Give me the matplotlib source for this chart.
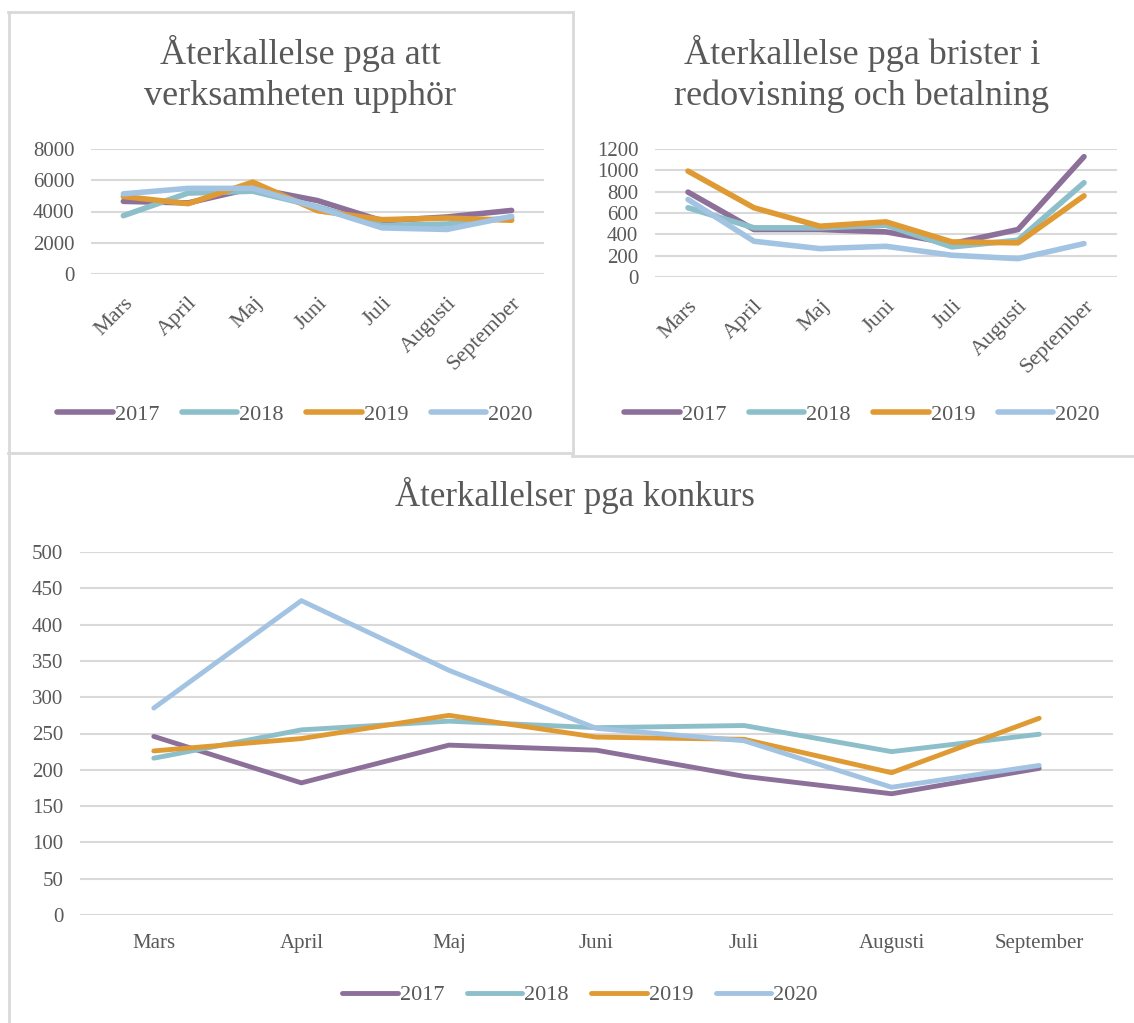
import numpy as np
import matplotlib
matplotlib.use("Agg")
from matplotlib import pyplot as plt
from matplotlib.lines import Line2D

months = ["Mars", "April", "Maj", "Juni", "Juli", "Augusti", "September"]
years = ["2017", "2018", "2019", "2020"]

# Återkallelse pga att verksamheten upphör
upphor_2017 = [4650, 4550, 5500, 4700, 3400, 3650, 4070]
upphor_2018 = [3730, 5180, 5300, 4300, 3100, 3200, 3600]
upphor_2019 = [4960, 4500, 5880, 4050, 3480, 3580, 3440]
upphor_2020 = [5130, 5480, 5480, 4250, 2950, 2850, 3690]

# Återkallelse pga brister i redovisning och betalning
brister_2017 = [796, 445, 445, 423, 313, 445, 1128]
brister_2018 = [649, 461, 461, 486, 282, 345, 884]
brister_2019 = [993, 649, 476, 517, 329, 320, 761]
brister_2020 = [727, 335, 266, 288, 204, 172, 313]

# Återkallelser pga konkurs
konkurs_2017 = [246, 182, 234, 227, 191, 167, 202]
konkurs_2018 = [216, 255, 267, 258, 261, 225, 249]
konkurs_2019 = [226, 243, 275, 245, 242, 196, 271]
konkurs_2020 = [285, 433, 337, 257, 240, 176, 206]

colors = ["#8c7099", "#8cbfca", "#df9a33", "#a3c3e3"]
txt = "#595959"
grid = "#d9d9d9"

plt.rcParams['font.family'] = ['Liberation Serif', 'DejaVu Serif']

W, H = 1134, 1023
fig = plt.figure(figsize=(W / 100, H / 100), dpi=100)


def px_axes(l, t, r, b):
    return fig.add_axes([l / W, 1 - b / H, (r - l) / W, (b - t) / H])


def hline(x0, x1, y, lw=2):
    fig.add_artist(Line2D([x0 / W, x1 / W], [1 - y / H, 1 - y / H],
                          transform=fig.transFigure, color=grid, lw=lw))


def vline(x, y0, y1, lw=2):
    fig.add_artist(Line2D([x / W, x / W], [1 - y0 / H, 1 - y1 / H],
                          transform=fig.transFigure, color=grid, lw=lw))


def draw(ax, series, ymax, step, rotate, lw):
    x = np.arange(len(months))
    for vals, c, y in zip(series, colors, years):
        ax.plot(x, vals, color=c, lw=lw, solid_capstyle='round',
                solid_joinstyle='round', label=y)
    ax.set_xlim(-0.5, len(months) - 0.5)
    ax.set_ylim(0, ymax)
    ax.set_yticks(np.arange(0, ymax + 1, step))
    ax.yaxis.grid(True, color=grid, lw=1.5)
    ax.set_axisbelow(True)
    for s in ax.spines.values():
        s.set_visible(False)
    ax.tick_params(length=0, colors=txt, labelsize=15)
    ax.tick_params(axis='y', pad=12)
    ax.set_xticks(x)
    if rotate:
        ax.set_xticklabels(months, rotation=45, ha='right', va='top',
                           rotation_mode='anchor', fontsize=16)
        ax.tick_params(axis='x', pad=14)
    else:
        ax.set_xticklabels(months)
        ax.tick_params(axis='x', pad=14)


# panel borders
hline(8, 572, 12)
vline(8.5, 12, 1023)
vline(572.5, 12, 455)
hline(8, 572, 453)
hline(572, 1134, 455.5)

ax1 = px_axes(91, 149, 544, 274)
draw(ax1, [upphor_2017, upphor_2018, upphor_2019, upphor_2020], 8000, 2000, True, 4)
ax2 = px_axes(655, 149, 1117, 277)
draw(ax2, [brister_2017, brister_2018, brister_2019, brister_2020], 1200, 200, True, 4)
ax3 = px_axes(80, 552, 1113, 915)
draw(ax3, [konkurs_2017, konkurs_2018, konkurs_2019, konkurs_2020], 500, 50, False, 3.5)

fig.text(300 / W, 1 - 74 / H, "Återkallelse pga att\nverksamheten upphör",
         ha='center', va='center', fontsize=26, color=txt, linespacing=1.3)
fig.text(862 / W, 1 - 74 / H, "Återkallelse pga brister i\nredovisning och betalning",
         ha='center', va='center', fontsize=26, color=txt, linespacing=1.3)
fig.text(575 / W, 1 - 495 / H, "Återkallelser pga konkurs",
         ha='center', va='center', fontsize=25, color=txt)


def legend(ax, cx, cy):
    h, l = ax.get_legend_handles_labels()
    fig.legend(h, l, loc='center', bbox_to_anchor=(cx / W, 1 - cy / H), ncol=4,
               frameon=False, fontsize=16, handlelength=2.5, handletextpad=0.1,
               columnspacing=1.0, labelcolor=txt)


legend(ax1, 295, 415)
legend(ax2, 862, 415)
legend(ax3, 580, 995)

fig.savefig("out.png", dpi=100)
